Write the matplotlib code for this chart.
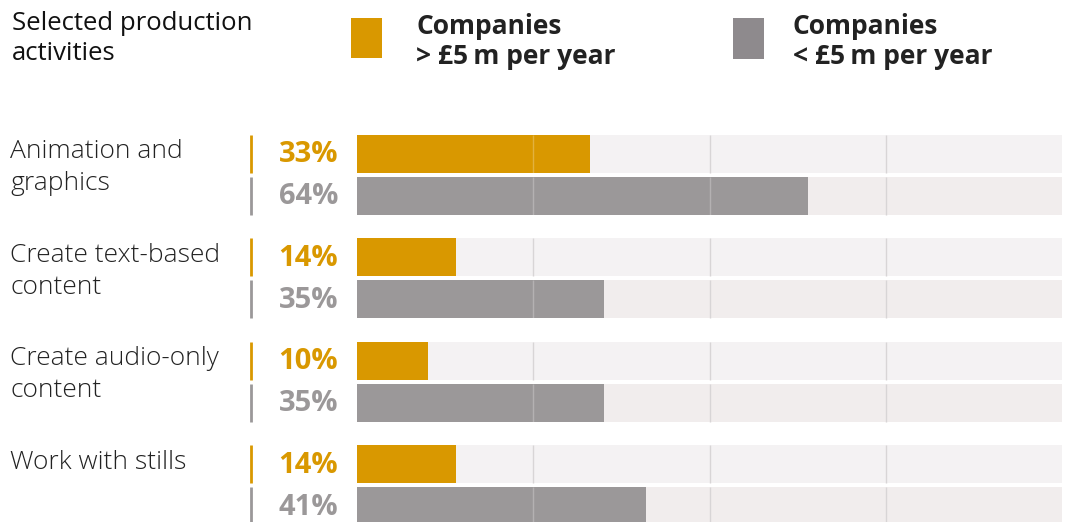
import matplotlib.pyplot as plt
from matplotlib.patches import Rectangle

categories = [['Animation and', 'graphics'],
              ['Create text-based', 'content'],
              ['Create audio-only', 'content'],
              ['Work with stills']]
large_cos = [33, 14, 10, 14]   # companies > £5m per year
small_cos = [64, 35, 35, 41]   # companies < £5m per year
grid_at = [25, 50, 75]

orange = '#d99800'
grey = '#9b9899'
grey_key = '#8e8a8d'
track_o = '#f4f2f3'
track_g = '#f1eded'

W, H = 1066, 522
fig = plt.figure(figsize=(W / 100, H / 100), dpi=100)

# overlay axes in pixel units for text and marks (y runs downward)
ov = fig.add_axes([0, 0, 1, 1])
ov.set_xlim(0, W)
ov.set_ylim(H, 0)
ov.axis('off')

# bar axes: 0-100 % across the track
x0, x1 = 357, 1062
bx = fig.add_axes([x0 / W, 0, (x1 - x0) / W, 1])
bx.set_xlim(0, 100)
bx.set_ylim(H, 0)
bx.axis('off')

regular = dict(family=['Open Sans', 'DejaVu Sans'])
light = dict(family=['Open Sans', 'DejaVu Sans'], weight='light')
bold = dict(family=['Open Sans', 'DejaVu Sans'], weight='bold')

ov.text(12, 23, 'Selected production', fontsize=18.5, va='center', color='#111111', **regular)
ov.text(12, 54, 'activities', fontsize=18.5, va='center', color='#111111', **regular)

# key
ov.add_patch(Rectangle((351, 18), 31, 40, color=orange, lw=0))
ov.text(416, 27, 'Companies', fontsize=19, va='center', color='#222222', **bold)
ov.text(416, 57, '> £5\u2009m per year', fontsize=19, va='center', color='#222222', **bold)
ov.add_patch(Rectangle((733, 18), 31, 41, color=grey_key, lw=0))
ov.text(793, 27, 'Companies', fontsize=19, va='center', color='#222222', **bold)
ov.text(793, 57, '< £5\u2009m per year', fontsize=19, va='center', color='#222222', **bold)

top, pitch, bh, gap = 135, 103.4, 38, 4

for i, (lab, a, b) in enumerate(zip(categories, large_cos, small_cos)):
    y_o = top + i * pitch
    y_g = y_o + bh + gap
    for j, line in enumerate(lab):
        ov.text(10, y_o + 17 + j * 32, line, fontsize=19, va='center', color='#222222', **light)
    for y, v, col, trk in [(y_o, a, orange, track_o), (y_g, b, grey, track_g)]:
        bx.barh(y + bh / 2, 100, height=bh, color=trk, lw=0, zorder=1)
        bx.barh(y + bh / 2, v, height=bh, color=col, lw=0, zorder=2)
        for g in grid_at:
            if g < v:
                bx.vlines(g, y, y + bh, color='white', alpha=0.25, lw=1, zorder=3)
            else:
                bx.vlines(g, y, y + bh, color='#d8d5d6', lw=1, zorder=3)
        ov.vlines(251, y, y + bh, color=col, lw=2)
        ov.text(338, y + bh / 2 + 1, f'{v}%', fontsize=21, ha='right', va='center',
                color=col, **bold)

fig.savefig('out.png', dpi=100)
